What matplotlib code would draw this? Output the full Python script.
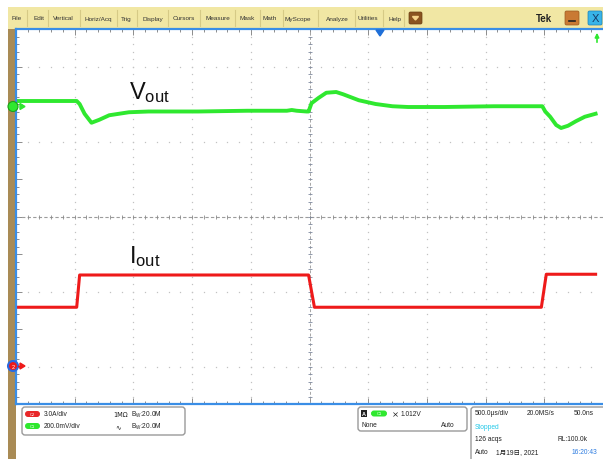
# Oscilloscope screenshot: load-step response (Vout / Iout)
import numpy as np
import matplotlib.pyplot as plt
from matplotlib.patches import FancyBboxPatch, Rectangle, Circle, Polygon

plt.rcParams['font.family'] = ['Liberation Sans', 'Noto Sans CJK SC', 'DejaVu Sans']

# --- waveform data (time in us, level in screen divisions from centre) ---
vout_t = [-2500, -1983, -1958, -1916, -1857, -1790, -1706, -1538, -1370, -950,
          -529, -193, -151, -109, -25, -8, 17, 76, 143, 227,
          286, 353, 420, 563, 706, 840, 1151, 1571, 1983, 2008,
          2050, 2101, 2143, 2202, 2269, 2345, 2437]
vout_div = [1.54, 1.54, 1.50, 1.37, 1.25, 1.29, 1.35, 1.39, 1.40, 1.40,
            1.41, 1.41, 1.42, 1.41, 1.40, 1.40, 1.51, 1.58, 1.65, 1.66,
            1.63, 1.59, 1.55, 1.50, 1.47, 1.46, 1.46, 1.47, 1.47, 1.40,
            1.33, 1.22, 1.18, 1.21, 1.27, 1.33, 1.37]

iout_t = [-2500, -1983, -1958, -8, 42, 1975, 2017, 2437]
iout_div = [-1.21, -1.21, -0.78, -0.78, -1.21, -1.21, -0.77, -0.77]

# --- scope UI text ---
menu_items = ["File", "Edit", "Vertical", "Horiz/Acq", "Trig", "Display", "Cursors",
              "Measure", "Mask", "Math", "MyScope", "Analyze", "Utilities", "Help"]
menu_x = [17, 39, 63, 98, 126, 153, 184, 218, 247, 270, 298, 337, 368, 395]
menu_sep = [27, 48, 80, 117, 137, 168, 200, 235, 260, 283, 318, 355, 383, 404]

ch_scale = ["3.0A/div", "200.0mV/div"]
trig_level = "1.012V"
horiz = ["500.0\u00b5s/div", "20.0MS/s", "50.0ns"]
acq_info = ["Stopped", "126 acqs", "RL:100.0k", "Auto", "1\u670819\u65e5, 2021", "16:20:43"]

GREEN = "#2fe82f"
RED = "#ee1a1a"
BLUE = "#3a8ee6"
W, H = 603, 460

fig = plt.figure(figsize=(W / 100, H / 100), dpi=100)
fig.patch.set_facecolor("white")

# background layer in pixel coordinates
bg = fig.add_axes([0, 0, 1, 1])
bg.set_xlim(0, W)
bg.set_ylim(H, 0)
bg.axis("off")

# menu bar
bg.add_patch(Rectangle((8, 8), W - 8, 22, color="#f1e7a4", lw=0))
for sx in menu_sep:
    bg.plot([sx, sx], [11, 27], color="#d6ca86", lw=0.8)
for mx, name in zip(menu_x, menu_items):
    bg.text(mx, 19, name, fontsize=4.6, ha="center", va="center", color="#333333")
bg.add_patch(FancyBboxPatch((409, 13), 13, 12, boxstyle="round,pad=0,rounding_size=1.5",
                            fc="#8a5420", ec="#6a3e12", lw=0.5))
bg.add_patch(Polygon([[412.5, 17.5], [418.5, 17.5], [415.5, 21]], color="#f6d48a"))
bg.text(544, 19, "Tek", fontsize=7, fontweight="bold", ha="center", va="center", color="#222222")
bg.add_patch(FancyBboxPatch((565, 12), 14, 14, boxstyle="round,pad=0,rounding_size=1.5",
                            fc="#c97a34", ec="#9a5a20", lw=0.5))
bg.plot([569, 575], [22, 22], color="#222222", lw=1.2)
bg.add_patch(FancyBboxPatch((588, 12), 14, 14, boxstyle="round,pad=0,rounding_size=1.5",
                            fc="#38b4e8", ec="#1b7fb8", lw=0.5))
bg.text(595, 19.5, "X", fontsize=8, ha="center", va="center", color="#163a66")

# brown side strip
bg.add_patch(Rectangle((8, 30), 7.5, H - 30, color="#a98b55", lw=0))

# bottom info boxes
bg.add_patch(FancyBboxPatch((22, 408), 163, 28, boxstyle="round,pad=0,rounding_size=3",
                            fc="white", ec="#9a9a9a", lw=1))
bg.add_patch(FancyBboxPatch((358, 408), 109, 24, boxstyle="round,pad=0,rounding_size=3",
                            fc="white", ec="#9a9a9a", lw=1))
bg.add_patch(FancyBboxPatch((471, 408), 140, 60, boxstyle="round,pad=0,rounding_size=3",
                            fc="white", ec="#9a9a9a", lw=1))

fs = 4.8
for row_y, pill_c, lab in [(415, "#e8282a", "C2"), (427, GREEN, "C1")]:
    bg.add_patch(FancyBboxPatch((25, row_y - 3), 15, 6, boxstyle="round,pad=0,rounding_size=3",
                                fc=pill_c, ec="none"))
    bg.text(32.5, row_y, lab, fontsize=3, ha="center", va="center", color="white")
bg.text(44, 415, ch_scale[0], fontsize=fs, va="center", color="#222222")
bg.text(44, 427, ch_scale[1], fontsize=fs, va="center", color="#222222")
bg.text(113, 415, "1M\u03a9", fontsize=fs, va="center", color="#222222", family="DejaVu Sans")
bg.text(115, 427.5, "\u223f", fontsize=fs, va="center", color="#222222", family="DejaVu Sans")
for row_y in (415, 427):
    bg.text(131, row_y, r"$\mathregular{B_W}$:20.0M", fontsize=fs, va="center", color="#222222")

bg.add_patch(Rectangle((360.5, 411), 6.5, 7, color="#222222", lw=0))
bg.text(363.75, 414.6, "A", fontsize=4, ha="center", va="center", color="white", fontweight="bold")
bg.add_patch(FancyBboxPatch((371, 411.5), 16, 6, boxstyle="round,pad=0,rounding_size=3",
                            fc=GREEN, ec="none"))
bg.text(379, 414.5, "C1", fontsize=3, ha="center", va="center", color="white")
bg.text(395, 414.5, "\u2a2f", fontsize=6, ha="center", va="center", color="#222222", family="DejaVu Sans")
bg.text(401, 414.5, trig_level, fontsize=fs, va="center", color="#222222")
bg.text(361, 426, "None", fontsize=fs, va="center", color="#222222")
bg.text(455, 426, "Auto", fontsize=fs, va="center", ha="right", color="#222222")

bg.text(475, 414, horiz[0], fontsize=fs, va="center", color="#222222")
bg.text(527, 414, horiz[1], fontsize=fs, va="center", color="#222222")
bg.text(574, 414, horiz[2], fontsize=fs, va="center", color="#222222")
bg.text(475, 427.5, acq_info[0], fontsize=fs, va="center", color="#22c8e8")
bg.text(475, 440, acq_info[1], fontsize=fs, va="center", color="#222222")
bg.text(558, 440, acq_info[2], fontsize=fs, va="center", color="#222222")
bg.text(475, 452.5, acq_info[3], fontsize=fs, va="center", color="#222222")
bg.text(496, 452.5, acq_info[4], fontsize=fs, va="center", color="#222222")
bg.text(572, 452.5, acq_info[5], fontsize=fs, va="center", color="#2a7ae0")

# --- waveform area ---
x0, x1, y0, y1 = 16, W, 30, 405
ax = fig.add_axes([x0 / W, 1 - y1 / H, (x1 - x0) / W, (y1 - y0) / H])
ax.set_facecolor("none")
ax.set_xlim(-2500, 2500 * (x1 - 313) / (313 - x0))
ax.set_ylim(-2.5, 2.5)

for side in ("top", "left", "bottom"):
    ax.spines[side].set_color(BLUE)
    ax.spines[side].set_linewidth(1.6)
ax.spines["right"].set_visible(False)

ax.set_xticks(np.arange(-2500, 2501, 500))
ax.set_xticks(np.arange(-2500, 2501, 100), minor=True)
ax.set_yticks(np.arange(-2.5, 2.51, 0.5))
ax.set_yticks(np.arange(-2.5, 2.51, 0.1), minor=True)
ax.tick_params(which="both", direction="in", top=True, bottom=True, left=True, right=False,
               labelbottom=False, labelleft=False, color="#8c8c8c", width=0.7)
ax.tick_params(which="major", length=4.5)
ax.tick_params(which="minor", length=2.5)

# dotted graticule
gy = np.arange(-2.5, 2.51, 0.1)
for gx in [-2000, -1500, -1000, -500, 500, 1000, 1500, 2000]:
    ax.plot(np.full_like(gy, gx), gy, ls="none", marker="s", ms=0.9, color="#c2c2c2", mew=0)
gxs = np.arange(-2500, 2500, 100)
for gyy in [-2, -1, 1, 2]:
    ax.plot(gxs, np.full_like(gxs, gyy, dtype=float), ls="none", marker="s", ms=0.9,
            color="#c2c2c2", mew=0)
# centre cross-hair
ax.axhline(0, color="#9c9c9c", lw=0.8, ls=(0, (3, 2)))
ax.axvline(0, color="#a6a6a6", lw=0.7, ls=(0, (3, 2)))
ax.plot(gxs, np.zeros_like(gxs, dtype=float), ls="none", marker="|", ms=2.5, color="#8a8a8a", mew=0.6)
ax.plot(np.zeros_like(gy), gy, ls="none", marker="_", ms=2.5, color="#7f8aa0", mew=0.6)

# traces
ax.plot(iout_t, iout_div, color=RED, lw=2.2, solid_joinstyle="round")
ax.plot(vout_t, vout_div, color=GREEN, lw=2.8, solid_joinstyle="round")

ax.text(-1540, 1.50, r"$\mathregular{V_{out}}$", fontsize=17, color="#111111", va="bottom")
ax.text(-1540, -0.68, r"$\mathregular{I_{out}}$", fontsize=17, color="#111111", va="bottom")

# overlay markers in pixel coordinates
ov = fig.add_axes([0, 0, 1, 1])
ov.set_xlim(0, W)
ov.set_ylim(H, 0)
ov.axis("off")
ov.patch.set_alpha(0)
ov.add_patch(Polygon([[376, 31], [384, 31], [380, 37]], color="#1f6fd8"))
ov.annotate("", xy=(597, 31), xytext=(597, 46),
            arrowprops=dict(arrowstyle="-|>", color=GREEN, lw=1.2, mutation_scale=6))
ov.add_patch(Circle((13, 107.5), 5, fc=GREEN, ec="#1aa01a", lw=0.8))
ov.add_patch(Polygon([[20, 104.5], [20, 110.5], [25, 107.5]], color=GREEN))
ov.add_patch(Circle((13, 367), 5, fc=RED, ec="#2a6ae0", lw=1.5))
ov.text(13, 367.3, "2", fontsize=4, ha="center", va="center", color="white")
ov.add_patch(Polygon([[20, 364], [20, 370], [25, 367]], color=RED))
ov.plot([18, 21], [367, 367], color=RED, lw=1)

fig.savefig("out.png", dpi=100)
